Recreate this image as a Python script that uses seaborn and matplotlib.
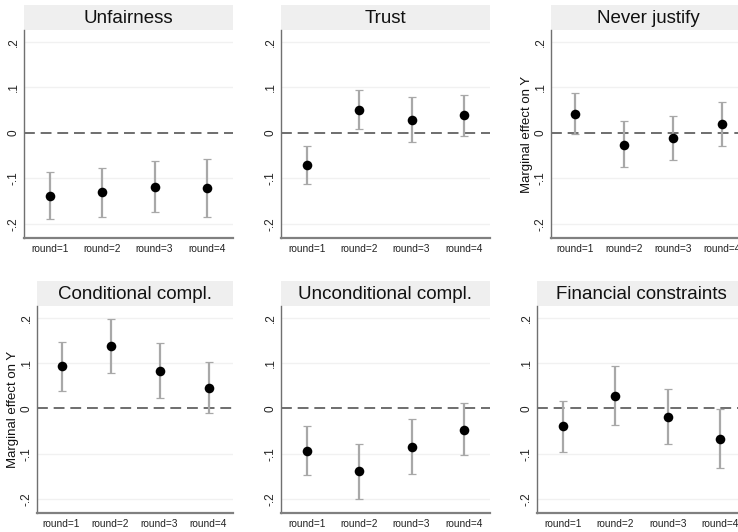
import numpy as np
import pandas as pd
import matplotlib
matplotlib.use("Agg")
import matplotlib.pyplot as plt
import seaborn as sns

# Rounds on the x axis
rounds = [1, 2, 3, 4]
round_labels = ["round=1", "round=2", "round=3", "round=4"]

# Panel titles
panels = ["Unfairness", "Trust", "Never justify",
          "Conditional compl.", "Unconditional compl.", "Financial constraints"]

# Marginal effects and 95% confidence bounds per panel
unfairness_est = [-0.139, -0.131, -0.119, -0.122]
unfairness_lo = [-0.190, -0.184, -0.174, -0.184]
unfairness_hi = [-0.086, -0.078, -0.062, -0.058]

trust_est = [-0.071, 0.051, 0.028, 0.039]
trust_lo = [-0.112, 0.009, -0.021, -0.006]
trust_hi = [-0.028, 0.095, 0.078, 0.084]

never_est = [0.042, -0.026, -0.011, 0.019]
never_lo = [-0.002, -0.075, -0.059, -0.028]
never_hi = [0.087, 0.025, 0.037, 0.068]

cond_est = [0.093, 0.137, 0.083, 0.046]
cond_lo = [0.039, 0.078, 0.023, -0.010]
cond_hi = [0.146, 0.198, 0.144, 0.103]

uncond_est = [-0.094, -0.139, -0.085, -0.047]
uncond_lo = [-0.147, -0.199, -0.145, -0.104]
uncond_hi = [-0.039, -0.079, -0.024, 0.011]

fin_est = [-0.040, 0.028, -0.018, -0.068]
fin_lo = [-0.097, -0.036, -0.079, -0.132]
fin_hi = [0.017, 0.093, 0.043, -0.001]

y_ticks = [-0.2, -0.1, 0, 0.1, 0.2]
y_tick_labels = ["-.2", "-.1", "0", ".1", ".2"]

series = {
    "Unfairness": (unfairness_est, unfairness_lo, unfairness_hi),
    "Trust": (trust_est, trust_lo, trust_hi),
    "Never justify": (never_est, never_lo, never_hi),
    "Conditional compl.": (cond_est, cond_lo, cond_hi),
    "Unconditional compl.": (uncond_est, uncond_lo, uncond_hi),
    "Financial constraints": (fin_est, fin_lo, fin_hi),
}

rows = []
for name in panels:
    est, lo, hi = series[name]
    for r, e, l, h in zip(rounds, est, lo, hi):
        rows.append({"panel": name, "round": r, "est": e, "lo": l, "hi": h})
df = pd.DataFrame(rows)

sns.set_style("white")
plt.rcParams["font.family"] = ["Liberation Sans", "DejaVu Sans"]

W, H = 738, 532
fig = plt.figure(figsize=(W / 100, H / 100), dpi=100)


def rect(x0, y0, x1, y1):
    return [x0 / W, 1 - y1 / H, (x1 - x0) / W, (y1 - y0) / H]


# (x-left, x-right, strip top, plot top, plot bottom, show y label)
layout = {
    "Unfairness": (24, 233, 5, 30, 238, False),
    "Trust": (281, 490, 5, 30, 238, False),
    "Never justify": (551, 746, 5, 30, 238, True),
    "Conditional compl.": (37, 233, 281, 306, 513, True),
    "Unconditional compl.": (281, 490, 281, 306, 513, False),
    "Financial constraints": (537, 746, 281, 306, 513, False),
}

for name in panels:
    x0, x1, ys, yt, yb, show_ylab = layout[name]
    sub = df[df["panel"] == name]

    # title strip
    sax = fig.add_axes(rect(x0, ys, x1, yt))
    sax.set_facecolor("#efefef")
    for s in sax.spines.values():
        s.set_visible(False)
    sax.set_xticks([])
    sax.set_yticks([])
    sax.text(0.5, 0.45, name, ha="center", va="center", fontsize=13.5,
             color="#111111", transform=sax.transAxes)

    ax = fig.add_axes(rect(x0, yt, x1, yb))
    ax.set_facecolor("white")
    for yv in y_ticks:
        if yv != 0:
            ax.axhline(yv, color="#f1f1f1", lw=1.0, zorder=0)
    ax.axhline(0, color="#555555", lw=1.2, dashes=(6.5, 3.5), zorder=1)

    ax.errorbar(sub["round"], sub["est"],
                yerr=[sub["est"] - sub["lo"], sub["hi"] - sub["est"]],
                fmt="none", ecolor="#a8a8a8", elinewidth=1.6,
                capsize=3.2, capthick=0.9, zorder=2)
    sns.scatterplot(data=sub, x="round", y="est", ax=ax, color="black",
                    s=48, edgecolor="black", linewidth=0, zorder=3)

    ax.set_xlim(0.5, 4.5)
    ax.set_ylim(-0.231, 0.226)
    ax.set_xticks(rounds)
    ax.set_xticklabels(round_labels, fontsize=7.3, color="#222222")
    ax.set_yticks(y_ticks)
    ax.set_yticklabels(y_tick_labels, fontsize=8.5, color="#222222",
                       rotation=90, va="center")
    ax.tick_params(axis="both", length=0)
    ax.tick_params(axis="x", pad=4.5)
    ax.tick_params(axis="y", pad=3)
    ax.set_xlabel("")
    if show_ylab:
        ax.set_ylabel("Marginal effect on Y", fontsize=9.5, color="#111111",
                      labelpad=1)
    else:
        ax.set_ylabel("")
    for side in ("top", "right"):
        ax.spines[side].set_visible(False)
    ax.spines["left"].set_color("#707070")
    ax.spines["left"].set_linewidth(1.0)
    ax.spines["bottom"].set_color("#808080")
    ax.spines["bottom"].set_linewidth(1.6)

fig.savefig("out.png", dpi=100)
